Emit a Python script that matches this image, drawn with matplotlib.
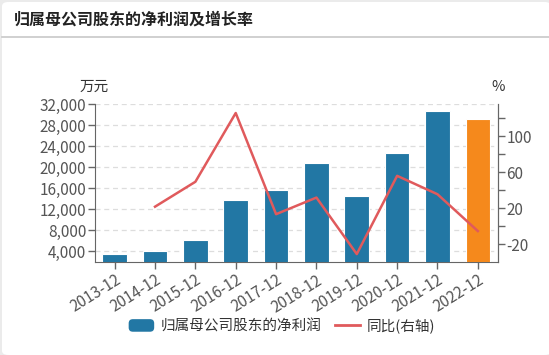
import numpy as np
import matplotlib.pyplot as plt
from matplotlib.patches import FancyBboxPatch, Patch
from matplotlib.lines import Line2D
from matplotlib.legend_handler import HandlerPatch
from matplotlib.ticker import FuncFormatter, MultipleLocator

plt.rcParams['font.family'] = ['Noto Sans CJK SC', 'DejaVu Sans']

# data
years = ['2013-12', '2014-12', '2015-12', '2016-12', '2017-12',
         '2018-12', '2019-12', '2020-12', '2021-12', '2022-12']
profit = [3490, 4110, 6090, 13810, 15710, 20840, 14460, 22630, 30670, 29090]
growth = [np.nan, 21.9, 49.5, 125.7, 13.6, 32.0, -30.6, 56.1, 35.7, -5.1]

blue = '#2277a4'
orange = '#f5891c'
red = '#e05a5c'
txt = '#555555'
axc = '#666666'

W, H = 549, 355
fig = plt.figure(figsize=(W / 100, H / 100), dpi=100)
fig.patch.set_facecolor('#ebebeb')

# white card with header line
card = FancyBboxPatch((2 / W, 0), 1, (H - 2) / H, boxstyle='round,pad=0,rounding_size=0.012',
                      transform=fig.transFigure, facecolor='white', edgecolor='none', zorder=-10)
fig.patches.append(card)
fig.add_artist(Line2D([2 / W, 1], [1 - 37 / H, 1 - 37 / H], transform=fig.transFigure,
                      color='#c8c8c8', lw=1.2))
fig.text(14 / W, 1 - 20 / H, '归属母公司股东的净利润及增长率', fontsize=11.5, fontweight='bold',
         color='#222222', va='center', ha='left')

ax = fig.add_axes([94.5 / W, 1 - 262 / H, (498 - 94.5) / W, (262 - 104) / H])
ax.set_facecolor('none')
x = np.arange(len(years))
colors = [blue] * (len(years) - 1) + [orange]
ax.bar(x, profit, width=0.61, color=colors, edgecolor='#ffffff', linewidth=0.8, zorder=3)
ax.set_xlim(-0.5, len(years) - 0.5)
ax.set_ylim(1966, 32000)
ax.set_yticks(np.arange(4000, 32001, 4000))
ax.yaxis.set_major_formatter(FuncFormatter(lambda v, p: f'{int(v):,}'))
ax.grid(axis='y', color='#dddddd', linestyle=(0, (4, 3)), lw=0.9, zorder=0)
ax.set_xticks(x)
ax.set_xticklabels(years, rotation=32, ha='right', rotation_mode='anchor')
ax.spines['top'].set_visible(False)
for s in ['left', 'bottom', 'right']:
    ax.spines[s].set_color(axc)
ax.tick_params(axis='both', colors=axc, labelcolor=txt, labelsize=11, length=5, width=1)
ax.tick_params(axis='x', pad=2)
ax.tick_params(axis='y', pad=1)

ax2 = ax.twinx()
ax2.plot(x, growth, color=red, lw=1.8, zorder=4)
ax2.set_ylim(-39.4, 135.7)
ax2.yaxis.set_major_locator(MultipleLocator(20))
ax2.yaxis.set_major_formatter(FuncFormatter(lambda v, p: f'{int(round(v))}' if round(v) % 40 == 20 else ''))
for s in ['top', 'left', 'bottom']:
    ax2.spines[s].set_visible(False)
ax2.spines['right'].set_color(axc)
ax2.tick_params(axis='y', colors=axc, labelcolor=txt, labelsize=11, length=5, width=1, pad=1)

fig.text(94 / W, 1 - 87 / H, '万元', fontsize=10.5, color='#333333', ha='center', va='center')
fig.text(498 / W, 1 - 87 / H, '%', fontsize=10.5, color='#333333', ha='center', va='center')


def rounded_patch(legend, orig_handle, xdescent, ydescent, width, height, fontsize):
    return FancyBboxPatch((-xdescent, -ydescent), width, height,
                          boxstyle='round,pad=0,rounding_size=3')


handles = [Patch(facecolor=blue, edgecolor='none'),
           Line2D([0], [0], color=red, lw=2)]
fig.legend(handles, ['归属母公司股东的净利润', '同比(右轴)'], loc='center',
           bbox_to_anchor=(282 / W, 1 - 326 / H), ncol=2, frameon=False, fontsize=10.5,
           labelcolor='#333333', handlelength=1.75, handleheight=0.95, columnspacing=0.9,
           handletextpad=0.45,
           handler_map={Patch: HandlerPatch(patch_func=rounded_patch)})

fig.savefig('out.png', dpi=100, facecolor=fig.get_facecolor())
